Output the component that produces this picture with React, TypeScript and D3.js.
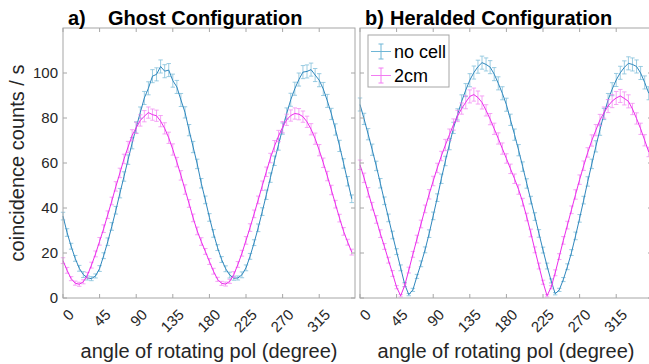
import * as d3 from 'd3';

// polarizer angle in degrees
const angles = [
  0, 5, 10, 15, 20, 25, 30, 35, 40, 45, 50, 55, 60, 65, 70, 75, 80, 85,
  90, 95, 100, 105, 110, 115, 120, 125, 130, 135, 140, 145, 150, 155, 160, 165, 170, 175,
  180, 185, 190, 195, 200, 205, 210, 215, 220, 225, 230, 235, 240, 245, 250, 255, 260, 265,
  270, 275, 280, 285, 290, 295, 300, 305, 310, 315, 320, 325, 330, 335, 340, 345, 350, 355,
];

// a) ghost configuration
const ghostNoCell = [
  36.4, 29.1, 23.0, 17.6, 13.2, 10.4, 8.9, 8.6, 9.8, 13.1, 18.8, 25.0, 31.8, 39.0, 46.6, 54.0, 61.5, 68.8,
  75.8, 82.4, 88.9, 93.2, 98.6, 99.4, 102.9, 100.8, 101.3, 96.6, 93.8, 88.0, 82.5, 74.6, 67.1, 59.6, 51.0, 43.6,
  35.8, 28.7, 22.4, 17.1, 13.0, 10.2, 8.8, 8.9, 10.3, 13.4, 18.5, 24.6, 31.2, 38.4, 45.9, 53.5, 61.0, 68.2,
  75.3, 82.0, 88.1, 93.0, 97.1, 100.4, 100.7, 101.5, 99.1, 96.8, 92.9, 87.6, 81.8, 74.9, 67.6, 59.8, 51.9, 44.1,
];
const ghostNoCellErr = [
  1.7, 1.7, 1.3, 1.3, 1.3, 1.3, 0.9, 0.9, 0.9, 1.3, 1.3, 1.7, 1.7, 1.7, 2.1, 2.1, 2.1, 2.5,
  2.5, 2.5, 2.9, 2.9, 2.9, 2.9, 2.9, 2.9, 2.9, 2.9, 2.9, 2.9, 2.5, 2.5, 2.5, 2.1, 2.1, 1.7,
  1.7, 1.7, 1.3, 1.3, 1.3, 1.3, 0.9, 0.9, 1.3, 1.3, 1.3, 1.3, 1.7, 1.7, 2.1, 2.1, 2.1, 2.5,
  2.5, 2.5, 2.9, 2.9, 2.9, 2.9, 2.9, 2.9, 2.9, 2.9, 2.9, 2.9, 2.5, 2.5, 2.5, 2.1, 2.1, 1.7,
];
const ghost2cm = [
  16.6, 12.3, 8.6, 6.6, 6.1, 7.2, 10.1, 14.6, 19.6, 25.2, 30.8, 37.0, 43.1, 49.6, 55.6, 61.8, 67.1, 72.3,
  75.6, 78.9, 80.8, 82.4, 81.5, 81.0, 78.6, 75.4, 71.2, 66.0, 60.4, 54.5, 48.2, 42.0, 35.6, 29.8, 25.1, 20.7,
  16.2, 11.9, 8.3, 6.5, 6.2, 7.4, 10.4, 14.9, 19.9, 25.6, 31.3, 37.4, 43.6, 49.9, 56.1, 62.2, 67.5, 72.0,
  75.9, 79.2, 81.1, 82.0, 81.7, 80.6, 78.3, 75.0, 70.8, 65.7, 60.1, 54.2, 48.0, 41.7, 35.5, 29.6, 24.8, 20.4,
];
const ghost2cmErr = [
  1.3, 1.3, 0.9, 0.9, 0.9, 0.9, 1.3, 1.3, 1.3, 1.7, 1.7, 1.7, 1.7, 2.1, 2.1, 2.1, 2.5, 2.5,
  2.5, 2.5, 2.5, 2.5, 2.5, 2.5, 2.5, 2.5, 2.5, 2.5, 2.1, 2.1, 2.1, 1.7, 1.7, 1.7, 1.7, 1.3,
  1.3, 1.3, 0.9, 0.9, 0.9, 0.9, 1.3, 1.3, 1.3, 1.7, 1.7, 1.7, 1.7, 2.1, 2.1, 2.1, 2.5, 2.5,
  2.5, 2.5, 2.5, 2.5, 2.5, 2.5, 2.5, 2.5, 2.5, 2.5, 2.1, 2.1, 2.1, 1.7, 1.7, 1.7, 1.3, 1.3,
];

// b) heralded configuration
const heraldNoCell = [
  86.0, 79.6, 72.8, 65.9, 58.7, 51.0, 43.2, 35.6, 28.0, 20.6, 13.4, 6.0, 1.5, 3.6, 9.6, 15.2, 21.4, 28.6,
  36.5, 44.6, 53.0, 60.9, 68.4, 75.6, 81.6, 87.4, 92.4, 96.8, 100.2, 102.8, 104.6, 103.8, 102.6, 99.5, 95.4, 91.0,
  85.9, 79.2, 72.6, 65.7, 58.4, 50.9, 43.5, 36.2, 28.7, 21.3, 14.2, 7.6, 1.9, 3.6, 8.2, 13.9, 20.2, 27.6,
  35.4, 43.5, 51.8, 59.6, 67.4, 74.8, 81.8, 88.0, 92.8, 96.9, 100.1, 102.5, 104.3, 103.8, 102.9, 100.0, 95.8, 91.0,
];
const heraldNoCellErr = [
  2.9, 2.5, 2.5, 2.5, 2.1, 2.1, 1.7, 1.7, 1.7, 1.3, 1.3, 0.9, 0.5, 0.7, 0.9, 1.3, 1.3, 1.7,
  1.7, 1.7, 2.1, 2.1, 2.5, 2.5, 2.5, 2.9, 2.9, 2.9, 2.9, 2.9, 2.9, 2.9, 2.9, 2.9, 2.9, 2.9,
  2.9, 2.5, 2.5, 2.5, 2.1, 2.1, 1.7, 1.7, 1.7, 1.3, 1.3, 0.9, 0.5, 0.7, 0.9, 1.3, 1.3, 1.7,
  1.7, 1.7, 2.1, 2.1, 2.5, 2.5, 2.5, 2.9, 2.9, 2.9, 2.9, 2.9, 2.9, 2.9, 2.9, 2.9, 2.9, 2.9,
];
const herald2cm = [
  59.2, 53.4, 47.0, 40.8, 34.9, 28.6, 22.9, 16.8, 10.9, 4.8, 1.0, 5.6, 12.4, 19.4, 26.2, 32.9, 39.6, 46.1,
  52.0, 57.8, 63.1, 68.0, 72.6, 77.1, 80.9, 84.2, 87.0, 89.6, 90.4, 89.1, 86.9, 83.4, 79.5, 75.2, 70.9, 66.4,
  62.0, 57.4, 53.0, 48.2, 42.6, 36.0, 28.9, 21.4, 14.2, 7.0, 1.0, 4.8, 11.2, 18.4, 25.6, 32.4, 39.2, 46.0,
  52.6, 58.8, 64.7, 70.0, 74.6, 79.1, 82.4, 85.3, 87.5, 88.9, 89.8, 88.7, 87.4, 84.0, 79.8, 75.2, 70.1, 64.9,
];
const herald2cmErr = [
  2.1, 2.1, 2.1, 1.7, 1.7, 1.7, 1.3, 1.3, 1.3, 0.7, 0.5, 0.7, 1.3, 1.3, 1.7, 1.7, 1.7, 2.1,
  2.1, 2.1, 2.1, 2.5, 2.5, 2.5, 2.5, 2.5, 2.9, 2.9, 2.9, 2.9, 2.9, 2.5, 2.5, 2.5, 2.5, 2.5,
  2.1, 2.1, 2.1, 2.1, 1.7, 1.7, 1.7, 1.3, 1.3, 0.9, 0.5, 0.7, 1.3, 1.3, 1.7, 1.7, 1.7, 2.1,
  2.1, 2.1, 2.1, 2.5, 2.5, 2.5, 2.5, 2.9, 2.9, 2.9, 2.9, 2.9, 2.9, 2.5, 2.5, 2.5, 2.5, 2.1,
];

const xTicks = [0, 45, 90, 135, 180, 225, 270, 315];
const yTicks = [0, 20, 40, 60, 80, 100];
const seriesNames = ['no cell', '2cm'];

const BLUE = '#2f87bd';
const BLUE_ERR = '#6fb6d6';
const PINK = '#ec2bec';
const PINK_ERR = '#f27cf2';
const AXIS = '#a6a6a6';
const TEXT = '#262626';
const FONT = '"Liberation Sans", Arial, Helvetica, sans-serif';

const y = d3.scaleLinear().domain([0, 120]).range([298, 28]);

function Series({ x, values, errs, color, errColor }) {
  const line = d3
    .line<number>()
    .x((_, i) => x(angles[i]))
    .y((d) => y(d));
  return (
    <g>
      <g stroke={errColor} strokeWidth={0.8} opacity={0.85}>
        {values.map((v, i) => {
          const cx = x(angles[i]);
          const lo = y(v - errs[i]);
          const hi = y(v + errs[i]);
          return (
            <g key={i}>
              <line x1={cx} x2={cx} y1={lo} y2={hi} />
              <line x1={cx - 2.2} x2={cx + 2.2} y1={lo} y2={lo} />
              <line x1={cx - 2.2} x2={cx + 2.2} y1={hi} y2={hi} />
            </g>
          );
        })}
      </g>
      <path d={line(values)} fill="none" stroke={color} strokeWidth={1} />
    </g>
  );
}

function Panel({ x0, x1, letter, title, titleX, noCell, noCellErr, cm, cmErr, showYLabels }) {
  const x = d3.scaleLinear().domain([0, 359]).range([x0, x1]);
  const [yb, yt] = y.range();
  return (
    <g>
      <Series x={x} values={noCell} errs={noCellErr} color={BLUE} errColor={BLUE_ERR} />
      <Series x={x} values={cm} errs={cmErr} color={PINK} errColor={PINK_ERR} />

      {/* box */}
      <rect x={x0} y={yt} width={x1 - x0} height={yb - yt} fill="none" stroke={AXIS} strokeWidth={1} />
      {xTicks.map((t) => (
        <g key={t} stroke={AXIS}>
          <line x1={x(t)} x2={x(t)} y1={yb} y2={yb - 4} />
          <line x1={x(t)} x2={x(t)} y1={yt} y2={yt + 4} />
        </g>
      ))}
      {yTicks.map((t) => (
        <g key={t} stroke={AXIS}>
          <line x1={x0} x2={x0 + 4} y1={y(t)} y2={y(t)} />
          <line x1={x1} x2={x1 - 4} y1={y(t)} y2={y(t)} />
        </g>
      ))}

      {/* tick labels */}
      {xTicks.map((t) => (
        <text
          key={t}
          transform={`translate(${x(t) + 12},315.6) rotate(-45)`}
          textAnchor="end"
          fontSize={15}
          fill={TEXT}
        >
          {t}
        </text>
      ))}
      {showYLabels &&
        yTicks.map((t) => (
          <text key={t} x={58} y={y(t)} dy="0.35em" textAnchor="end" fontSize={15} fill={TEXT}>
            {t}
          </text>
        ))}

      <text x={(x0 + x1) / 2} y={358} textAnchor="middle" fontSize={20} fill={TEXT}>
        angle of rotating pol (degree)
      </text>
      <text x={x0 + 5} y={25} fontSize={20} fontWeight="bold" fill="#000">
        {letter}
      </text>
      <text x={titleX} y={25} fontSize={20} fontWeight="bold" fill="#000">
        {title}
      </text>
    </g>
  );
}

function Legend() {
  const items = [
    { name: seriesNames[0], color: BLUE, err: BLUE_ERR, cy: 51.5 },
    { name: seriesNames[1], color: PINK, err: PINK_ERR, cy: 75.5 },
  ];
  return (
    <g>
      <rect x={368} y={35} width={81} height={52} fill="#fff" stroke={AXIS} strokeWidth={1} />
      {items.map((it) => (
        <g key={it.name}>
          <line x1={371} x2={391} y1={it.cy} y2={it.cy} stroke={it.err} strokeWidth={1} />
          <g stroke={it.err} strokeWidth={1}>
            <line x1={381} x2={381} y1={it.cy - 7.5} y2={it.cy + 7.5} />
            <line x1={378.5} x2={383.5} y1={it.cy - 7.5} y2={it.cy - 7.5} />
            <line x1={378.5} x2={383.5} y1={it.cy + 7.5} y2={it.cy + 7.5} />
          </g>
          <text x={394} y={it.cy + 6.3} fontSize={18} fill="#000">
            {it.name}
          </text>
        </g>
      ))}
    </g>
  );
}

export default function App() {
  return (
    <svg
      width={649}
      height={364}
      style={{ position: 'absolute', left: 0, top: 0, background: '#fff' }}
      fontFamily={FONT}
    >
      <rect width={649} height={364} fill="#fff" />
      <Panel
        x0={63}
        x1={355}
        letter="a)"
        title="Ghost Configuration"
        titleX={108}
        noCell={ghostNoCell}
        noCellErr={ghostNoCellErr}
        cm={ghost2cm}
        cmErr={ghost2cmErr}
        showYLabels
      />
      <Panel
        x0={360}
        x1={652}
        letter="b)"
        title="Heralded Configuration"
        titleX={390}
        noCell={heraldNoCell}
        noCellErr={heraldNoCellErr}
        cm={herald2cm}
        cmErr={herald2cmErr}
        showYLabels={false}
      />
      <text
        transform="translate(24,163) rotate(-90)"
        textAnchor="middle"
        fontSize={20}
        fill={TEXT}
      >
        coincidence counts / s
      </text>
      <Legend />
    </svg>
  );
}
